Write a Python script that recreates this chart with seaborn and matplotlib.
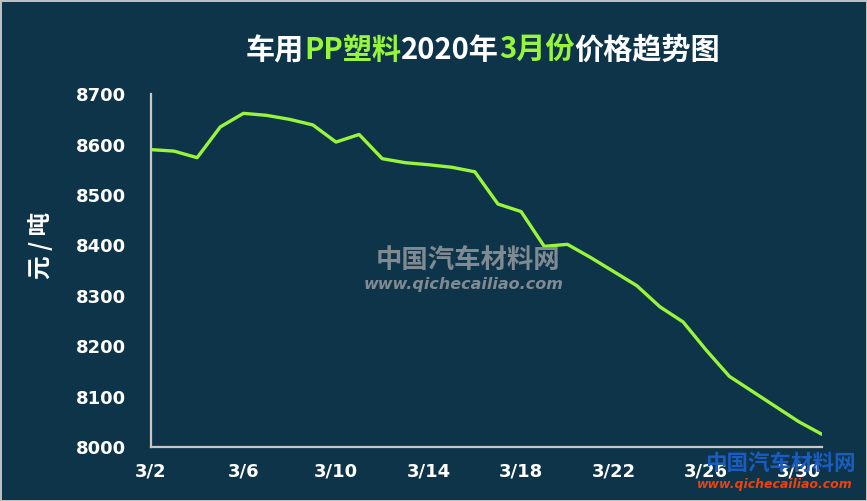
import matplotlib
matplotlib.use("Agg")
import matplotlib.pyplot as plt
import seaborn as sns
import pandas as pd
from matplotlib.offsetbox import TextArea, HPacker, AnchoredOffsetbox

# daily price of PP for automotive use, March 2020 (yuan / ton)
days = list(range(2, 32))
prices = [8590, 8587, 8574, 8635, 8662, 8658, 8650, 8639, 8605, 8620,
          8572, 8564, 8560, 8555, 8546, 8482, 8467, 8398, 8402, 8376,
          8348, 8320, 8278, 8248, 8192, 8140, 8110, 8080, 8050, 8025]
tick_days = [2, 6, 10, 14, 18, 22, 26, 30]
tick_labels = ["3/2", "3/6", "3/10", "3/14", "3/18", "3/22", "3/26", "3/30"]
y_ticks = [8000, 8100, 8200, 8300, 8400, 8500, 8600, 8700]

bg = "#0d3449"
green = "#99f53a"
axis_grey = "#c8c8c8"

df = pd.DataFrame({"day": days, "price": prices})

sns.set_style("dark")
plt.rcParams["font.family"] = ["Noto Sans CJK SC", "DejaVu Sans"]

fig = plt.figure(figsize=(8.67, 5.01), dpi=100)
fig.patch.set_facecolor(bg)
fig.patch.set_edgecolor("#bfbfbf")
fig.patch.set_linewidth(2)
ax = fig.add_axes([0.174, 0.108, 0.774, 0.704])
ax.set_facecolor(bg)

sns.lineplot(data=df, x="day", y="price", ax=ax, color=green, linewidth=2.4)
ax.lines[0].set_solid_joinstyle("round")

ax.set_xlim(2, 31)
ax.set_ylim(8000, 8700)
ax.set_xticks(tick_days)
ax.set_xticklabels(tick_labels)
ax.set_yticks(y_ticks)
ax.grid(False)
ax.set_xlabel("")
ax.set_ylabel("")

for s in ["top", "right"]:
    ax.spines[s].set_visible(False)
for s in ["left", "bottom"]:
    ax.spines[s].set_visible(True)
    ax.spines[s].set_color(axis_grey)
    ax.spines[s].set_linewidth(1.6)

ax.tick_params(axis="both", direction="in", length=5, width=1.6, color=axis_grey,
               labelcolor="white")
ax.tick_params(axis="y", pad=18)
ax.tick_params(axis="x", pad=11)
for lab in ax.get_xticklabels() + ax.get_yticklabels():
    lab.set_fontfamily("DejaVu Sans")
    lab.set_fontweight("bold")
    lab.set_fontsize(13)

fig.text(0.047, 0.51, "元 / 吨", rotation=90, color="white", fontsize=17,
         fontweight="bold", ha="center", va="center")

# title with coloured parts
parts = [("车用", "white"), ("PP塑料", green), ("2020年", "white"),
         ("3月份", green), ("价格趋势图", "white")]
boxes = [TextArea(t, textprops=dict(color=c, fontsize=21, fontweight="bold"))
         for t, c in parts]
title = HPacker(children=boxes, align="baseline", pad=0, sep=0)
anchored = AnchoredOffsetbox(loc="center", child=title, frameon=False,
                             bbox_to_anchor=(0.557, 0.9), bbox_transform=fig.transFigure,
                             borderpad=0, pad=0)
fig.add_artist(anchored)

# watermarks
fig.text(0.54, 0.478, "中国汽车材料网", color="#8c949b", fontsize=19, fontweight="bold",
         style="italic", ha="center", va="center", alpha=0.9)
fig.text(0.535, 0.433, "www.qichecailiao.com", color="#8c949b", fontsize=11.5,
         fontweight="bold", style="italic", ha="center", va="center",
         family="DejaVu Sans", alpha=0.9)
fig.text(0.9, 0.074, "中国汽车材料网", color="#1a5cc0", fontsize=15.5, fontweight="bold",
         style="italic", ha="center", va="center")
fig.text(0.894, 0.032, "www.qichecailiao.com", color="#f0400c", fontsize=9,
         fontweight="bold", style="italic", ha="center", va="center",
         family="DejaVu Sans")

fig.savefig("out.png", dpi=100, facecolor=fig.get_facecolor(),
            edgecolor=fig.get_edgecolor())
